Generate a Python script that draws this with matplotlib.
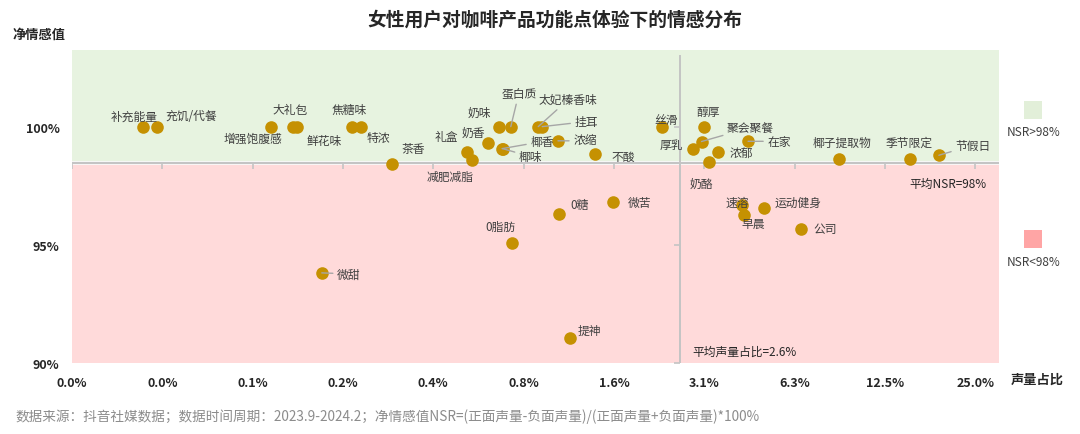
import matplotlib
matplotlib.use('Agg')
import matplotlib.pyplot as plt
from matplotlib.patches import Rectangle
from matplotlib.markers import TICKDOWN, TICKLEFT

plt.rcParams['font.family'] = ['Noto Sans CJK SC', 'DejaVu Sans']
plt.rcParams['axes.unicode_minus'] = False

# ---------------- data ----------------
names = ['补充能量', '充饥/代餐', '增强饱腹感', '大礼包', '鲜花味', '焦糖味', '特浓', '茶香',
         '礼盒', '减肥减脂', '奶香', '奶味', '蛋白质', '椰味', '椰香', '太妃榛香味', '挂耳',
         '浓缩', '不酸', '丝滑', '厚乳', '醇厚', '聚会聚餐', '奶酪', '浓郁', '在家',
         '椰子提取物', '季节限定', '节假日', '0糖', '微苦', '提神', '0脂肪', '微甜',
         '速溶', '早晨', '运动健身', '公司']
share = [0.042, 0.047, 0.112, 0.133, 0.137, 0.210, 0.224, 0.285,
         0.507, 0.524, 0.595, 0.648, 0.708, 0.665, 0.662, 0.874, 0.901,
         1.017, 1.356, 2.267, 2.868, 3.113, 3.06, 3.235, 3.475, 4.374,
         8.78, 15.13, 18.91, 1.022, 1.548, 1.115, 0.717, 0.166,
         4.167, 4.225, 4.948, 6.565]
nsr = [100.0, 100.0, 100.0, 100.0, 100.0, 100.0, 100.0, 98.44,
       98.92, 98.61, 99.32, 100.0, 100.0, 99.07, 99.07, 100.0, 100.0,
       99.40, 98.86, 100.0, 99.04, 100.0, 99.37, 98.50, 98.92, 99.38,
       98.65, 98.65, 98.79, 96.31, 96.81, 91.07, 95.09, 93.82,
       96.69, 96.28, 96.57, 95.68]

avg_share = 2.6
avg_nsr = 98.45

x_ticks = [0.0244140625, 0.048828125, 0.09765625, 0.1953125, 0.390625,
           0.78125, 1.5625, 3.125, 6.25, 12.5, 25.0]
x_tick_labels = ['0.0%', '0.0%', '0.1%', '0.2%', '0.4%', '0.8%', '1.6%',
                 '3.1%', '6.3%', '12.5%', '25.0%']
y_ticks = [90, 95, 100]
y_tick_labels = ['90%', '95%', '100%']

# label placement (pixel offsets from point: dx, dy-up)
label_offsets = {
    '补充能量': (-9, 10), '充饥/代餐': (34, 11), '增强饱腹感': (-18, -12),
    '大礼包': (-3, 17), '鲜花味': (27, -14), '焦糖味': (-3, 17), '特浓': (17, -11),
    '茶香': (21, 15), '礼盒': (-21, 16), '减肥减脂': (-21, -17), '奶香': (-15, 10),
    '奶味': (-20, 14), '蛋白质': (8, 33), '椰味': (28, -8), '椰香': (40, 7),
    '太妃榛香味': (30, 27), '挂耳': (44, 5), '浓缩': (27, 0), '不酸': (28, -3),
    '丝滑': (4, 7), '厚乳': (-22, 5), '醇厚': (4, 15), '聚会聚餐': (49, 14),
    '奶酪': (-7, -21), '浓郁': (23, 0), '在家': (31, 0), '椰子提取物': (3, 16),
    '季节限定': (-1, 16), '节假日': (34, 10), '0糖': (21, 9), '微苦': (27, 0),
    '提神': (19, 8), '0脂肪': (-12, 16), '微甜': (27, -1), '速溶': (-5, 3),
    '早晨': (10, -9), '运动健身': (34, 5), '公司': (24, 0),
}
leader_labels = {'蛋白质', '椰味', '椰香', '太妃榛香味', '挂耳', '浓缩', '聚会聚餐',
                 '在家', '节假日', '微甜'}

# ---------------- style ----------------
green_bg = '#E7F3E0'
red_bg = '#FFDADA'
green_sw = '#E2EFD9'
red_sw = '#FFA5A5'
dot_color = '#C59102'
axis_color = '#C4C4C4'
text_color = '#404040'

W, H = 1080, 435
fig = plt.figure(figsize=(W / 100, H / 100), dpi=100)
ax = fig.add_axes([72 / W, 1 - 364.3 / H, (999 - 72) / W, (364.3 - 50.7) / H])
ax.set_xscale('log', base=2)
ax.set_xlim(x_ticks[0], 30.0)
ax.set_ylim(90, 103.25)

ax.axhspan(avg_nsr, 103.25, color=green_bg, lw=0, zorder=0)
ax.axhspan(90, avg_nsr, color=red_bg, lw=0, zorder=0)

# axis lines through the averages
ax.axhline(avg_nsr, color='white', lw=2.8, zorder=1)
ax.axhline(avg_nsr, color=axis_color, lw=1.6, zorder=2)
ax.plot(x_ticks, [avg_nsr] * len(x_ticks), ls='none', marker=TICKDOWN,
        markersize=4, mec=axis_color, mew=1.2, zorder=2)
ax.axvline(avg_share, ymin=0, ymax=(103.0 - 90) / (103.25 - 90),
           color=axis_color, lw=1.4, zorder=2)
ax.plot([avg_share] * len(y_ticks), y_ticks, ls='none', marker=TICKLEFT,
        markersize=4, mec=axis_color, mew=1.2, zorder=2)

ax.scatter(share, nsr, s=82, color=dot_color, lw=0, zorder=4)

for n, x, y in zip(names, share, nsr):
    dx, dy = label_offsets[n]
    kw = {}
    if n in leader_labels:
        kw['arrowprops'] = dict(arrowstyle='-', color='#A6A6A6', lw=1,
                                shrinkA=1, shrinkB=0)
    ax.annotate(n, xy=(x, y), xytext=(dx, dy), textcoords='offset pixels',
                ha='center', va='center', fontsize=8.5, color=text_color,
                zorder=5, **kw)

# ticks
ax.set_xticks(x_ticks)
ax.set_xticklabels(x_tick_labels)
ax.set_yticks(y_ticks)
ax.set_yticklabels(y_tick_labels)
ax.minorticks_off()
ax.tick_params(axis='both', length=0, labelsize=9, labelcolor='#262626')
ax.tick_params(axis='x', pad=9)
ax.tick_params(axis='y', pad=9)
for lab in ax.get_xticklabels() + ax.get_yticklabels():
    lab.set_fontweight('bold')
for sp in ax.spines.values():
    sp.set_visible(False)

# average annotations
ax.text(0.987, 0.575, '平均NSR=98%', transform=ax.transAxes, ha='right',
        va='center', fontsize=8.5, style='italic', color='#262626')
ax.annotate('平均声量占比=2.6%', xy=(avg_share, 90), xytext=(12, 12),
            textcoords='offset pixels', ha='left', va='center', fontsize=8.5,
            style='italic', color='#262626')

# titles
fig.text(555 / W, 1 - 20 / H, '女性用户对咖啡产品功能点体验下的情感分布',
         ha='center', va='center', fontsize=13.5, fontweight='bold', color='#262626')
fig.text(39 / W, 1 - 35 / H, '净情感值', ha='center', va='center',
         fontsize=9.5, fontweight='bold', color='#262626')
fig.text(1037 / W, 1 - 380 / H, '声量占比', ha='center', va='center',
         fontsize=9.5, fontweight='bold', color='#262626')
fig.text(15 / W, 1 - 417 / H,
         '数据来源：抖音社媒数据；数据时间周期：2023.9-2024.2；净情感值NSR=(正面声量-负面声量)/(正面声量+负面声量)*100%',
         ha='left', va='center', fontsize=9.8, style='italic', color='#8C8C8C')

# legend
for (cy, col, lab) in [(111, green_sw, 'NSR>98%'), (240, red_sw, 'NSR<98%')]:
    fig.add_artist(Rectangle(((1032.5 - 9) / W, 1 - (cy + 9) / H), 18 / W, 18 / H,
                             transform=fig.transFigure, color=col, lw=0))
    fig.text(1034 / W, 1 - (cy + 22) / H, lab, ha='center', va='center',
             fontsize=8.5, color=text_color)

fig.savefig('out.png', dpi=100)
